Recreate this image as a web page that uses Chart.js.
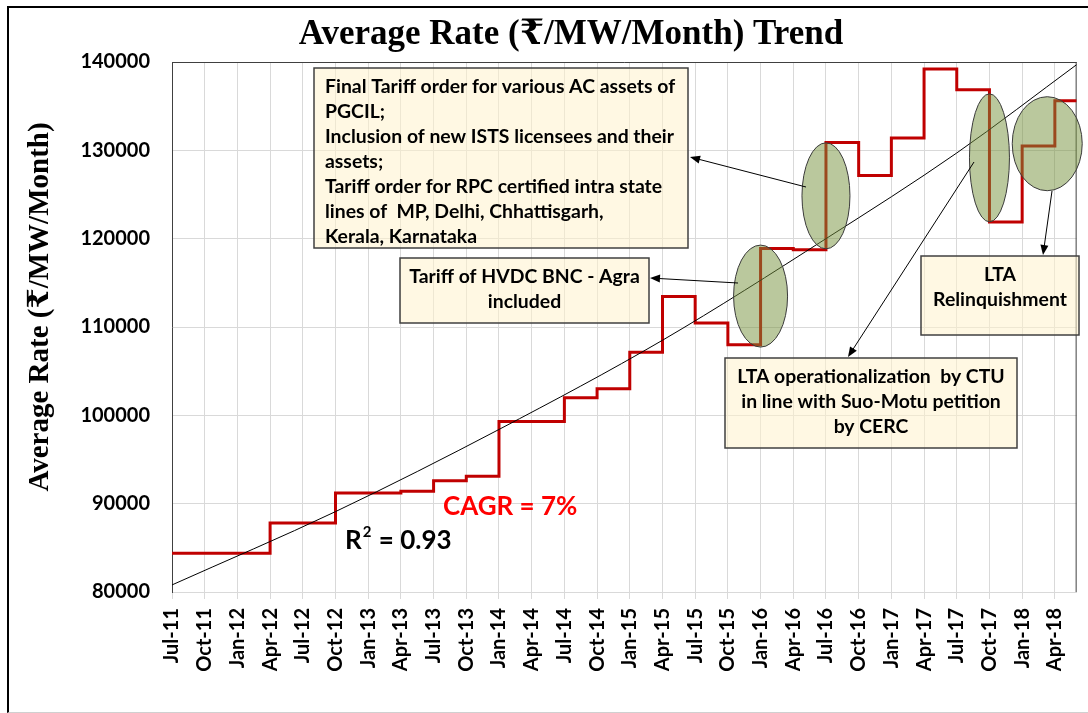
<!DOCTYPE html>
<html>
<head>
<meta charset="utf-8">
<title>Average Rate Trend</title>
<script src="https://cdn.jsdelivr.net/npm/chart.js@4"></script>
<style>
    body { margin: 0; background: #fff; }
    #wrap { position: relative; width: 1088px; height: 713px; overflow: hidden; }
    #frame {
        position: absolute; left: 7px; top: 6px; width: 1100px; height: 704px;
        border-top: 2px solid #000; border-left: 2px solid #000; border-bottom: 1px solid #d0d0d0;
    }
    #chart { position: absolute; left: 0; top: 0; }
</style>
</head>
<body>
<div id="wrap">
    <div id="frame"></div>
    <canvas id="chart" width="1088" height="713"></canvas>
</div>
<script>
// quarterly tick labels (one every 3 months, starting Jul-11)
const quarters = ['Jul-11', 'Oct-11', 'Jan-12', 'Apr-12', 'Jul-12', 'Oct-12', 'Jan-13', 'Apr-13',
    'Jul-13', 'Oct-13', 'Jan-14', 'Apr-14', 'Jul-14', 'Oct-14', 'Jan-15', 'Apr-15', 'Jul-15',
    'Oct-15', 'Jan-16', 'Apr-16', 'Jul-16', 'Oct-16', 'Jan-17', 'Apr-17', 'Jul-17', 'Oct-17',
    'Jan-18', 'Apr-18'];

// average rate (Rs/MW/Month) applicable from each quarter
const avgRate = [84400, 84400, 84400, 87800, 87800, 91200, 91200, 91400,
    92600, 93100, 99300, 99300, 102000, 103000, 107150, 113450, 110450,
    108000, 118900, 118750, 130900, 127150, 131400, 139200, 136850, 121900,
    130500, 135600];

// series runs on to Jun-18 (months counted from Jul-11)
const lastMonth = 83;

// exponential trend line
const trendMonths = [0, 15, 30, 45, 60, 72, 83];
const trendRate = [80800, 89100, 98400, 108500, 120000, 129700, 139700];

const yTicks = [80000, 90000, 100000, 110000, 120000, 130000, 140000];

const chartTitle = 'Average Rate (₹/MW/Month) Trend';
const yTitle = 'Average Rate (₹/MW/Month)';

// highlighted changes: month, rate at centre
const highlights = [
    { month: 54, rate: 113500, rx: 27, ry: 51 },
    { month: 60, rate: 124850, rx: 24, ry: 53 },
    { month: 75, rate: 129150, rx: 20, ry: 64 },
    { month: 80.3, rate: 130750, rx: 35, ry: 47 }
];

const notes = [
    { x: 314, y: 68, w: 374, h: 180, align: 'left', lines: [
        'Final Tariff order for various AC assets of',
        'PGCIL;',
        'Inclusion of new ISTS licensees and their',
        'assets;',
        'Tariff order for RPC certified intra state',
        'lines of  MP, Delhi, Chhattisgarh,',
        'Kerala, Karnataka'] },
    { x: 400, y: 258, w: 249, h: 65, align: 'center', lines: ['Tariff of HVDC BNC - Agra', 'included'] },
    { x: 921, y: 256, w: 158, h: 79, align: 'center', lines: ['LTA', 'Relinquishment'] },
    { x: 725, y: 358, w: 292, h: 90, align: 'center', lines: [
        'LTA operationalization  by CTU', 'in line with Suo-Motu petition', 'by CERC'] }
];

const arrows = [
    [806, 187, 690, 157],
    [738, 283, 650, 278],
    [974, 162, 848, 357],
    [1052, 191, 1043, 255]
];

const sans = "Lato, 'Open Sans', sans-serif";
const serif = "'Liberation Serif', 'DejaVu Serif', serif";

function draw_arrow(ctx, x1, y1, x2, y2) {
    let a = Math.atan2(y2 - y1, x2 - x1);
    ctx.beginPath();
    ctx.moveTo(x1, y1);
    ctx.lineTo(x2 - 8 * Math.cos(a), y2 - 8 * Math.sin(a));
    ctx.stroke();
    ctx.beginPath();
    ctx.moveTo(x2, y2);
    ctx.lineTo(x2 - 10 * Math.cos(a) + 4 * Math.sin(a), y2 - 10 * Math.sin(a) - 4 * Math.cos(a));
    ctx.lineTo(x2 - 10 * Math.cos(a) - 4 * Math.sin(a), y2 - 10 * Math.sin(a) + 4 * Math.cos(a));
    ctx.closePath();
    ctx.fill();
}

const plotBorder = {
    id: 'plotBorder',
    beforeDatasetsDraw(chart) {
        const { ctx, chartArea: a } = chart;
        ctx.save();
        ctx.strokeStyle = '#404040';
        ctx.lineWidth = 1;
        ctx.beginPath();
        ctx.moveTo(a.left, a.top + 0.5);
        ctx.lineTo(a.right, a.top + 0.5);
        ctx.moveTo(a.right - 0.5, a.top);
        ctx.lineTo(a.right - 0.5, a.bottom);
        ctx.stroke();

        // titles
        ctx.fillStyle = '#000';
        ctx.textAlign = 'center';
        ctx.textBaseline = 'alphabetic';
        ctx.font = 'bold 35px ' + serif;
        ctx.fillText(chartTitle, 571, 44);

        ctx.translate(48, 307);
        ctx.rotate(-Math.PI / 2);
        ctx.font = 'bold 29px ' + serif;
        ctx.fillText(yTitle, 0, 0);
        ctx.restore();
    }
};

const annotations = {
    id: 'annotations',
    afterDatasetsDraw(chart) {
        const { ctx, scales: { x, y } } = chart;
        ctx.save();

        highlights.forEach(h => {
            ctx.beginPath();
            ctx.ellipse(x.getPixelForValue(h.month), y.getPixelForValue(h.rate), h.rx, h.ry, 0, 0, Math.PI * 2);
            ctx.fillStyle = 'rgba(118,146,60,0.5)';
            ctx.fill();
            ctx.strokeStyle = '#3a3a3a';
            ctx.lineWidth = 1;
            ctx.stroke();
        });

        notes.forEach(n => {
            ctx.fillStyle = 'rgba(255,242,204,0.55)';
            ctx.fillRect(n.x, n.y, n.w, n.h);
            ctx.strokeStyle = '#404040';
            ctx.lineWidth = 1.5;
            ctx.strokeRect(n.x, n.y, n.w, n.h);
            ctx.fillStyle = '#000';
            ctx.font = 'bold 19.4px ' + sans;
            ctx.textBaseline = 'middle';
            ctx.textAlign = n.align;
            let tx = n.align == 'left' ? n.x + 11 : n.x + n.w / 2;
            n.lines.forEach((line, i) => {
                ctx.fillText(line, tx, n.y + 18.5 + i * 25);
            });
        });

        ctx.strokeStyle = '#000';
        ctx.fillStyle = '#000';
        ctx.lineWidth = 1;
        arrows.forEach(a => draw_arrow(ctx, a[0], a[1], a[2], a[3]));

        ctx.textAlign = 'left';
        ctx.textBaseline = 'middle';
        ctx.font = 'bold 26px ' + sans;
        ctx.fillStyle = '#ff0000';
        ctx.fillText('CAGR = 7%', 443, 507);

        ctx.fillStyle = '#000';
        ctx.fillText('R', 345, 541);
        let rw = ctx.measureText('R').width;
        ctx.font = 'bold 15px ' + sans;
        ctx.fillText('2', 345 + rw + 1, 532);
        let sw = ctx.measureText('2').width;
        ctx.font = 'bold 26px ' + sans;
        ctx.fillText(' = 0.93', 345 + rw + sw + 2, 541);

        ctx.restore();
    }
};

new Chart(document.getElementById('chart'), {
    type: 'line',
    data: {
        datasets: [{
            label: 'Trend',
            data: trendMonths.map((m, i) => ({ x: m, y: trendRate[i] })),
            borderColor: '#000',
            borderWidth: 1,
            pointRadius: 0,
            cubicInterpolationMode: 'monotone'
        }, {
            label: 'Average Rate',
            data: avgRate.map((v, i) => ({ x: i * 3, y: v }))
                .concat([{ x: lastMonth, y: avgRate[avgRate.length - 1] }]),
            borderColor: '#c00000',
            borderWidth: 3,
            pointRadius: 0,
            stepped: true
        }]
    },
    options: {
        responsive: false,
        animation: false,
        layout: { padding: { left: 0, right: 6, top: 62, bottom: 0 } },
        plugins: {
            legend: { display: false },
            tooltip: { enabled: false },
            title: { display: false }
        },
        scales: {
            x: {
                type: 'linear',
                min: 0,
                max: lastMonth,
                afterFit: (s) => { s.height = 121; },
                ticks: {
                    stepSize: 3,
                    includeBounds: false,
                    autoSkip: false,
                    minRotation: 90,
                    maxRotation: 90,
                    padding: 9,
                    color: '#000',
                    font: { family: sans, size: 20, weight: 'bold' },
                    callback: (v) => quarters[Math.round(v / 3)]
                },
                grid: { color: '#d9d9d9', tickLength: 7 },
                border: { color: '#d9d9d9' }
            },
            y: {
                min: 80000,
                max: 140000,
                afterFit: (s) => { s.width = 172; },
                afterBuildTicks: (s) => { s.ticks = yTicks.map(v => ({ value: v })); },
                ticks: {
                    padding: 22,
                    color: '#000',
                    font: { family: sans, size: 20, weight: 'bold' },
                    callback: (v) => String(v)
                },
                grid: { color: '#d9d9d9', drawTicks: false },
                border: { color: '#404040' }
            }
        }
    },
    plugins: [plotBorder, annotations]
});
</script>
</body>
</html>
